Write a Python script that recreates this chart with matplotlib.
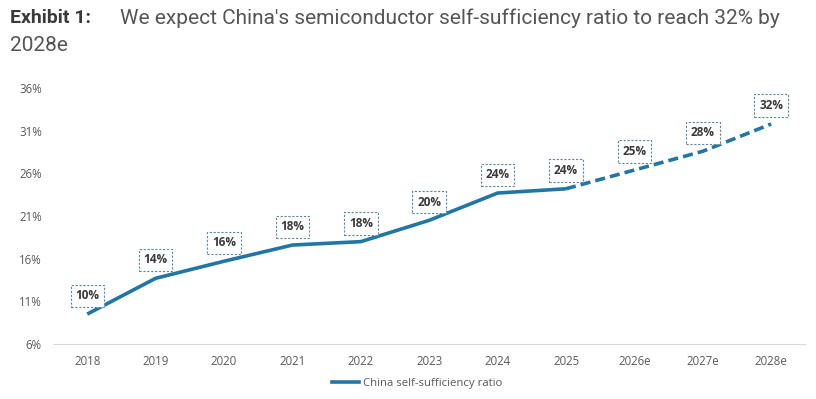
import matplotlib
matplotlib.use('Agg')
import matplotlib.pyplot as plt
from matplotlib.lines import Line2D

years = ['2018', '2019', '2020', '2021', '2022', '2023', '2024', '2025', '2026e', '2027e', '2028e']
ratio = [9.5, 13.7, 15.7, 17.6, 18.0, 20.5, 23.7, 24.2, 26.4, 28.6, 31.8]
labels = ['10%', '14%', '16%', '18%', '18%', '20%', '24%', '24%', '25%', '28%', '32%']
n_actual = 8  # 2018-2025 solid, rest forecast
yticks = [6, 11, 16, 21, 26, 31, 36]

blue = '#2176a6'
grey = '#595959'
font = 'Open Sans'

fig = plt.figure(figsize=(8.16, 3.99), dpi=100)
ax = fig.add_axes([0.065, 0.138, 0.922, 0.641])

x = list(range(len(years)))
ax.plot(x[:n_actual], ratio[:n_actual], color=blue, linewidth=2.6, solid_capstyle='butt')
ax.plot(x[n_actual - 1:], ratio[n_actual - 1:], color=blue, linewidth=2.6,
        linestyle=(0, (2.8, 1.4)), dash_capstyle='butt')

for xi, yi, lab in zip(x, ratio, labels):
    ax.annotate(lab, (xi, yi), xytext=(0, 8.5), textcoords='offset points',
                ha='center', va='bottom', fontsize=8.5, fontweight='bold',
                color='#3a3a3a', family=font,
                bbox=dict(boxstyle='square,pad=0.4', fc='white', ec='#5a8a9c',
                          lw=0.8, ls=(0, (2, 1.5))))

ax.set_xlim(-0.5, len(years) - 0.5)
ax.set_ylim(6, 36)
ax.set_xticks(x)
ax.set_xticklabels(years)
ax.set_yticks(yticks)
ax.set_yticklabels([f'{t}%' for t in yticks])
for s in ['top', 'right', 'left']:
    ax.spines[s].set_visible(False)
ax.spines['bottom'].set_color('#d9d9d9')
ax.tick_params(axis='both', length=0, labelsize=8.3, colors=grey)
ax.tick_params(axis='x', pad=8)
ax.tick_params(axis='y', pad=8)
for t in ax.get_xticklabels() + ax.get_yticklabels():
    t.set_family(font)

handle = Line2D([], [], color=blue, linewidth=2.6)
fig.legend([handle], ['China self-sufficiency ratio'], loc='center',
           bbox_to_anchor=(0.511, 0.04), frameon=False,
           prop={'family': font, 'size': 8.2}, labelcolor=grey,
           handlelength=2.4, handletextpad=0.3)

fig.text(0.012, 0.955, 'Exhibit 1:', fontsize=14, fontweight='bold',
         color='#3a3a3a', family='Roboto', va='center')
fig.text(0.147, 0.955, "We expect China's semiconductor self-sufficiency ratio to reach 32% by",
         fontsize=15, color='#555555', family='Roboto', va='center')
fig.text(0.012, 0.885, '2028e', fontsize=15, color='#555555', family='Roboto', va='center')

fig.savefig('out.png', dpi=100)
plt.close()
